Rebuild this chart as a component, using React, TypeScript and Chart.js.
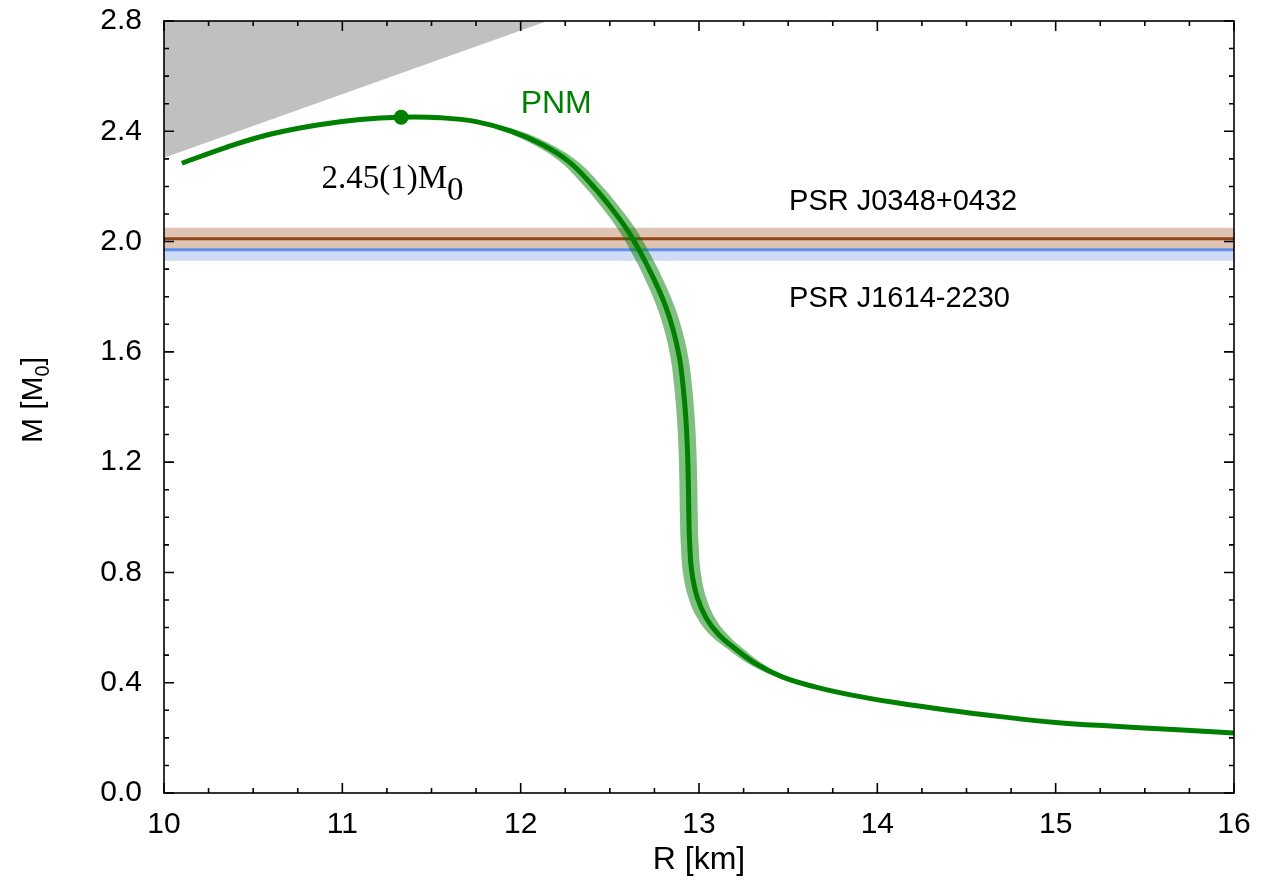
import { useEffect, useRef } from "react";
import { Chart, registerables } from "chart.js";

Chart.register(...registerables);

// Mass–radius curve for pure neutron matter (PNM): radius [km], mass [M0], radius uncertainty [km]
const pnmR = [10.1, 10.35, 10.6, 10.86, 11.1, 11.33, 11.55, 11.75, 11.95, 12.12, 12.27, 12.4, 12.51, 12.6, 12.68, 12.75, 12.81, 12.855, 12.89, 12.91, 12.925, 12.935, 12.94, 12.943, 12.948, 12.96, 12.99, 13.04, 13.11, 13.2, 13.32, 13.47, 13.65, 13.85, 14.1, 14.4, 14.69, 15.0, 15.33, 15.66, 16.0];
const pnmM = [2.284, 2.342, 2.39, 2.423, 2.443, 2.451, 2.449, 2.435, 2.4, 2.352, 2.29, 2.205, 2.12, 2.04, 1.95, 1.86, 1.77, 1.68, 1.58, 1.48, 1.37, 1.25, 1.13, 1.01, 0.9, 0.8, 0.71, 0.635, 0.575, 0.525, 0.468, 0.42, 0.385, 0.356, 0.328, 0.3, 0.277, 0.256, 0.242, 0.23, 0.218];
const pnmErr = [0, 0, 0, 0, 0, 0, 0.025, 0.04, 0.05, 0.05, 0.05, 0.05, 0.05, 0.05, 0.05, 0.05, 0.05, 0.05, 0.05, 0.05, 0.05, 0.05, 0.05, 0.05, 0.05, 0.05, 0.05, 0.05, 0.05, 0.045, 0.04, 0.03, 0.015, 0, 0, 0, 0, 0, 0, 0, 0];

// Maximum mass configuration
const maxMassR = [11.33];
const maxMassM = [2.451];
const maxMassLabel = "2.45(1)M";

// Causality limit region (M = R / 4.34)
const causalR = [10, 12.15, 10];
const causalM = [2.304, 2.8, 2.8];

// Measured pulsar masses
const pulsarNames = ["PSR J0348+0432", "PSR J1614-2230"];
const pulsarMass = [2.01, 1.97];
const pulsarErr = [0.04, 0.04];

// Axis ticks
const xTicks = [10, 11, 12, 13, 14, 15, 16];
const yTicks = [0, 0.4, 0.8, 1.2, 1.6, 2.0, 2.4, 2.8];
const xMinorStep = 0.25;
const yMinorStep = 0.1;

const SANS = '"Liberation Sans", Arial, sans-serif';
const SERIF = '"Liberation Serif", "Times New Roman", serif';
const GREEN = "#008000";

const pts = (xs: number[], ys: number[]) => xs.map((x, i) => ({ x, y: ys[i] }));

// Edges of the uncertainty band (only where an uncertainty is given)
function bandEdge(sign: number) {
  const s = pnmErr.findIndex((e) => e > 0) - 1;
  let e = pnmErr.length - 1;
  while (e > 0 && pnmErr[e - 1] === 0) e--;
  const out = [];
  for (let i = s; i <= e; i++) out.push({ x: pnmR[i] + sign * pnmErr[i], y: pnmM[i] });
  return out;
}

function rect(m: number, e: number) {
  return [
    { x: 10, y: m - e },
    { x: 16, y: m - e },
    { x: 16, y: m + e },
    { x: 10, y: m + e },
  ];
}

const frameAndLabels = {
  id: "frameAndLabels",
  afterDatasetsDraw(chart: any) {
    const { ctx, chartArea: a, scales } = chart;
    const x = scales.x;
    const y = scales.y;
    ctx.save();
    ctx.strokeStyle = "#000";
    ctx.lineWidth = 1.6;
    ctx.strokeRect(a.left, a.top, a.right - a.left, a.bottom - a.top);

    ctx.beginPath();
    const nx = Math.round((x.max - x.min) / xMinorStep);
    for (let k = 0; k <= nx; k++) {
      const v = x.min + k * xMinorStep;
      const px = x.getPixelForValue(v);
      const len = k % 4 === 0 ? 10 : 5;
      ctx.moveTo(px, a.bottom);
      ctx.lineTo(px, a.bottom - len);
      ctx.moveTo(px, a.top);
      ctx.lineTo(px, a.top + len);
    }
    const ny = Math.round((y.max - y.min) / yMinorStep);
    for (let k = 0; k <= ny; k++) {
      const v = y.min + k * yMinorStep;
      const py = y.getPixelForValue(v);
      const len = k % 4 === 0 ? 10 : 5;
      ctx.moveTo(a.left, py);
      ctx.lineTo(a.left + len, py);
      ctx.moveTo(a.right, py);
      ctx.lineTo(a.right - len, py);
    }
    ctx.stroke();

    // Curve label
    ctx.textBaseline = "alphabetic";
    ctx.textAlign = "left";
    ctx.fillStyle = GREEN;
    ctx.font = `32px ${SANS}`;
    ctx.fillText("PNM", x.getPixelForValue(12.0), y.getPixelForValue(2.466));

    // Maximum mass label
    ctx.fillStyle = "#000";
    ctx.font = `33px ${SERIF}`;
    const lx = x.getPixelForValue(10.883);
    const ly = y.getPixelForValue(2.193);
    ctx.fillText(maxMassLabel, lx, ly);
    const w = ctx.measureText(maxMassLabel).width;
    ctx.fillText("0", lx + w, ly + 12);

    // Pulsar labels
    ctx.font = `29px ${SANS}`;
    ctx.fillText(pulsarNames[0], x.getPixelForValue(13.505), y.getPixelForValue(2.115));
    ctx.fillText(pulsarNames[1], x.getPixelForValue(13.505), y.getPixelForValue(1.763));

    // Axis titles
    ctx.font = `32px ${SANS}`;
    ctx.textAlign = "center";
    ctx.fillText("R [km]", (a.left + a.right) / 2, 869);

    ctx.save();
    ctx.translate(42, 400);
    ctx.rotate(-Math.PI / 2);
    ctx.textAlign = "left";
    const big = `30px ${SANS}`;
    const small = `20px ${SANS}`;
    ctx.font = big;
    const w1 = ctx.measureText("M [M").width;
    const w3 = ctx.measureText("]").width;
    ctx.font = small;
    const w2 = ctx.measureText("0").width;
    let sx = -(w1 + w2 + w3) / 2;
    ctx.font = big;
    ctx.fillText("M [M", sx, 0);
    sx += w1;
    ctx.font = small;
    ctx.fillText("0", sx, 7);
    sx += w2;
    ctx.font = big;
    ctx.fillText("]", sx, 0);
    ctx.restore();

    ctx.restore();
  },
};

export default function App() {
  const ref = useRef<HTMLCanvasElement>(null);

  useEffect(() => {
    document.body.style.margin = "0";
    const shape = {
      showLine: true,
      pointRadius: 0,
      borderWidth: 0,
      borderColor: "rgba(0,0,0,0)",
      fill: "shape",
      tension: 0,
    };
    const chart = new Chart(ref.current as HTMLCanvasElement, {
      type: "scatter",
      data: {
        datasets: [
          { ...shape, data: pts(causalR, causalM), backgroundColor: "#c0c0c0", order: 10 } as any,
          { ...shape, data: rect(pulsarMass[1], pulsarErr[1]), backgroundColor: "#cedcf7", order: 9 } as any,
          { ...shape, data: rect(pulsarMass[0], pulsarErr[0]), backgroundColor: "#dfc4b3", order: 8 } as any,
          {
            data: rect(pulsarMass[1], 0).slice(0, 2),
            showLine: true,
            pointRadius: 0,
            borderColor: "#5f91ec",
            borderWidth: 3,
            order: 7,
          },
          {
            data: rect(pulsarMass[0], 0).slice(0, 2),
            showLine: true,
            pointRadius: 0,
            borderColor: "#914516",
            borderWidth: 3,
            order: 6,
          },
          {
            data: bandEdge(1),
            showLine: true,
            pointRadius: 0,
            borderWidth: 0,
            borderColor: "rgba(0,0,0,0)",
            tension: 0.4,
            backgroundColor: "rgba(0,128,0,0.5)",
            fill: "+1",
            order: 5,
          },
          {
            data: bandEdge(-1),
            showLine: true,
            pointRadius: 0,
            borderWidth: 0,
            borderColor: "rgba(0,0,0,0)",
            tension: 0.4,
            fill: false,
            order: 5,
          },
          {
            data: pts(pnmR, pnmM),
            showLine: true,
            pointRadius: 0,
            borderColor: GREEN,
            borderWidth: 5,
            tension: 0.4,
            order: 4,
          },
          {
            data: pts(maxMassR, maxMassM),
            pointRadius: 7.5,
            pointBackgroundColor: GREEN,
            pointBorderWidth: 0,
            order: 3,
          },
        ],
      },
      options: {
        animation: false,
        responsive: false,
        devicePixelRatio: 1,
        layout: { padding: { top: 21, right: 37, left: 0, bottom: 0 } },
        plugins: { legend: { display: false }, tooltip: { enabled: false } },
        scales: {
          x: {
            type: "linear",
            min: 10,
            max: 16,
            grid: { display: false, drawTicks: false },
            border: { display: false },
            afterBuildTicks: (s: any) => {
              s.ticks = xTicks.map((v) => ({ value: v }));
            },
            afterFit: (s: any) => {
              s.height = 98;
              s.paddingLeft = 0;
              s.paddingRight = 0;
            },
            ticks: {
              color: "#000",
              padding: 14,
              maxRotation: 0,
              font: { family: SANS, size: 30 },
              callback: (v: any) => String(v),
            },
          },
          y: {
            type: "linear",
            min: 0,
            max: 2.8,
            grid: { display: false, drawTicks: false },
            border: { display: false },
            afterBuildTicks: (s: any) => {
              s.ticks = yTicks.map((v) => ({ value: v }));
            },
            afterFit: (s: any) => {
              s.width = 164;
              s.paddingTop = 0;
              s.paddingBottom = 0;
            },
            ticks: {
              color: "#000",
              padding: 22,
              font: { family: SANS, size: 30 },
              callback: (v: any) => Number(v).toFixed(1),
            },
          },
        },
      },
      plugins: [frameAndLabels],
    } as any);
    return () => chart.destroy();
  }, []);

  return (
    <div style={{ width: 1271, height: 891 }}>
      <canvas ref={ref} width={1271} height={891} style={{ display: "block" }} />
    </div>
  );
}
